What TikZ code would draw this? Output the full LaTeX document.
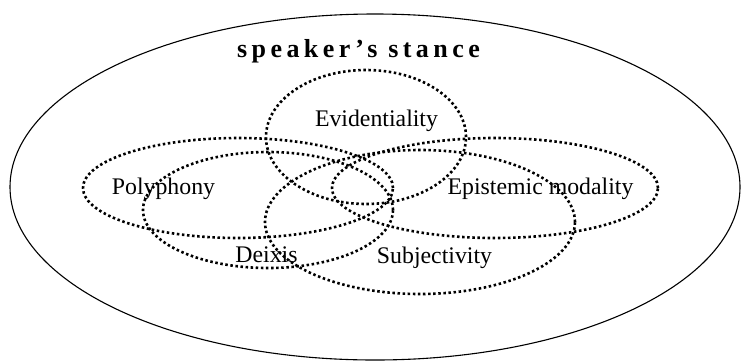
\documentclass[tikz,border=0pt]{standalone}
\usepackage{fontspec}
\setmainfont{Liberation Serif}
\newfontfamily\spacedfont[LetterSpace=17]{Liberation Serif}

\begin{document}
\begin{tikzpicture}[
  x=1pt, y=-1pt,
  frame/.style={draw=black, line width=1.1pt},
  ring/.style={draw=black, line width=2.6pt, dash pattern=on 2.5pt off 2.6pt},
  lbl/.style={font=\fontsize{23.8}{26}\selectfont, anchor=base, inner sep=0pt},
  ttl/.style={font=\spacedfont\bfseries\fontsize{26}{30}\selectfont,
              anchor=base, inner sep=0pt},
]
\useasboundingbox (0,0) rectangle (743,362);

% ── outer stance ellipse ─────────────────────────────────────────────────────
\draw[frame] (375,187) ellipse [x radius=365pt, y radius=173pt];
\node[ttl] (stance) at (358.5,57) {speaker’s stance};

% ── dotted domains ───────────────────────────────────────────────────────────
\draw[ring] (366,137) ellipse [x radius=100pt, y radius=67pt];  % evidentiality
\draw[ring] (238,188) ellipse [x radius=155pt, y radius=50pt];  % polyphony
\draw[ring] (495,188) ellipse [x radius=163pt, y radius=50pt];  % epistemic
\draw[ring] (268,210) ellipse [x radius=125pt, y radius=58pt];  % deixis
\draw[ring] (420,222) ellipse [x radius=155pt, y radius=72pt];  % subjectivity

% ── labels ───────────────────────────────────────────────────────────────────
\node[lbl] (evid) at (376.5,126) {Evidentiality};
\node[lbl] (poly) at (163.5,194) {Polyphony};
\node[lbl] (epis) at (540.5,194) {Epistemic modality};
\node[lbl] (deix) at (266.5,262) {Deixis};
\node[lbl] (subj) at (434.5,263) {Subjectivity};

\end{tikzpicture}
\end{document}
